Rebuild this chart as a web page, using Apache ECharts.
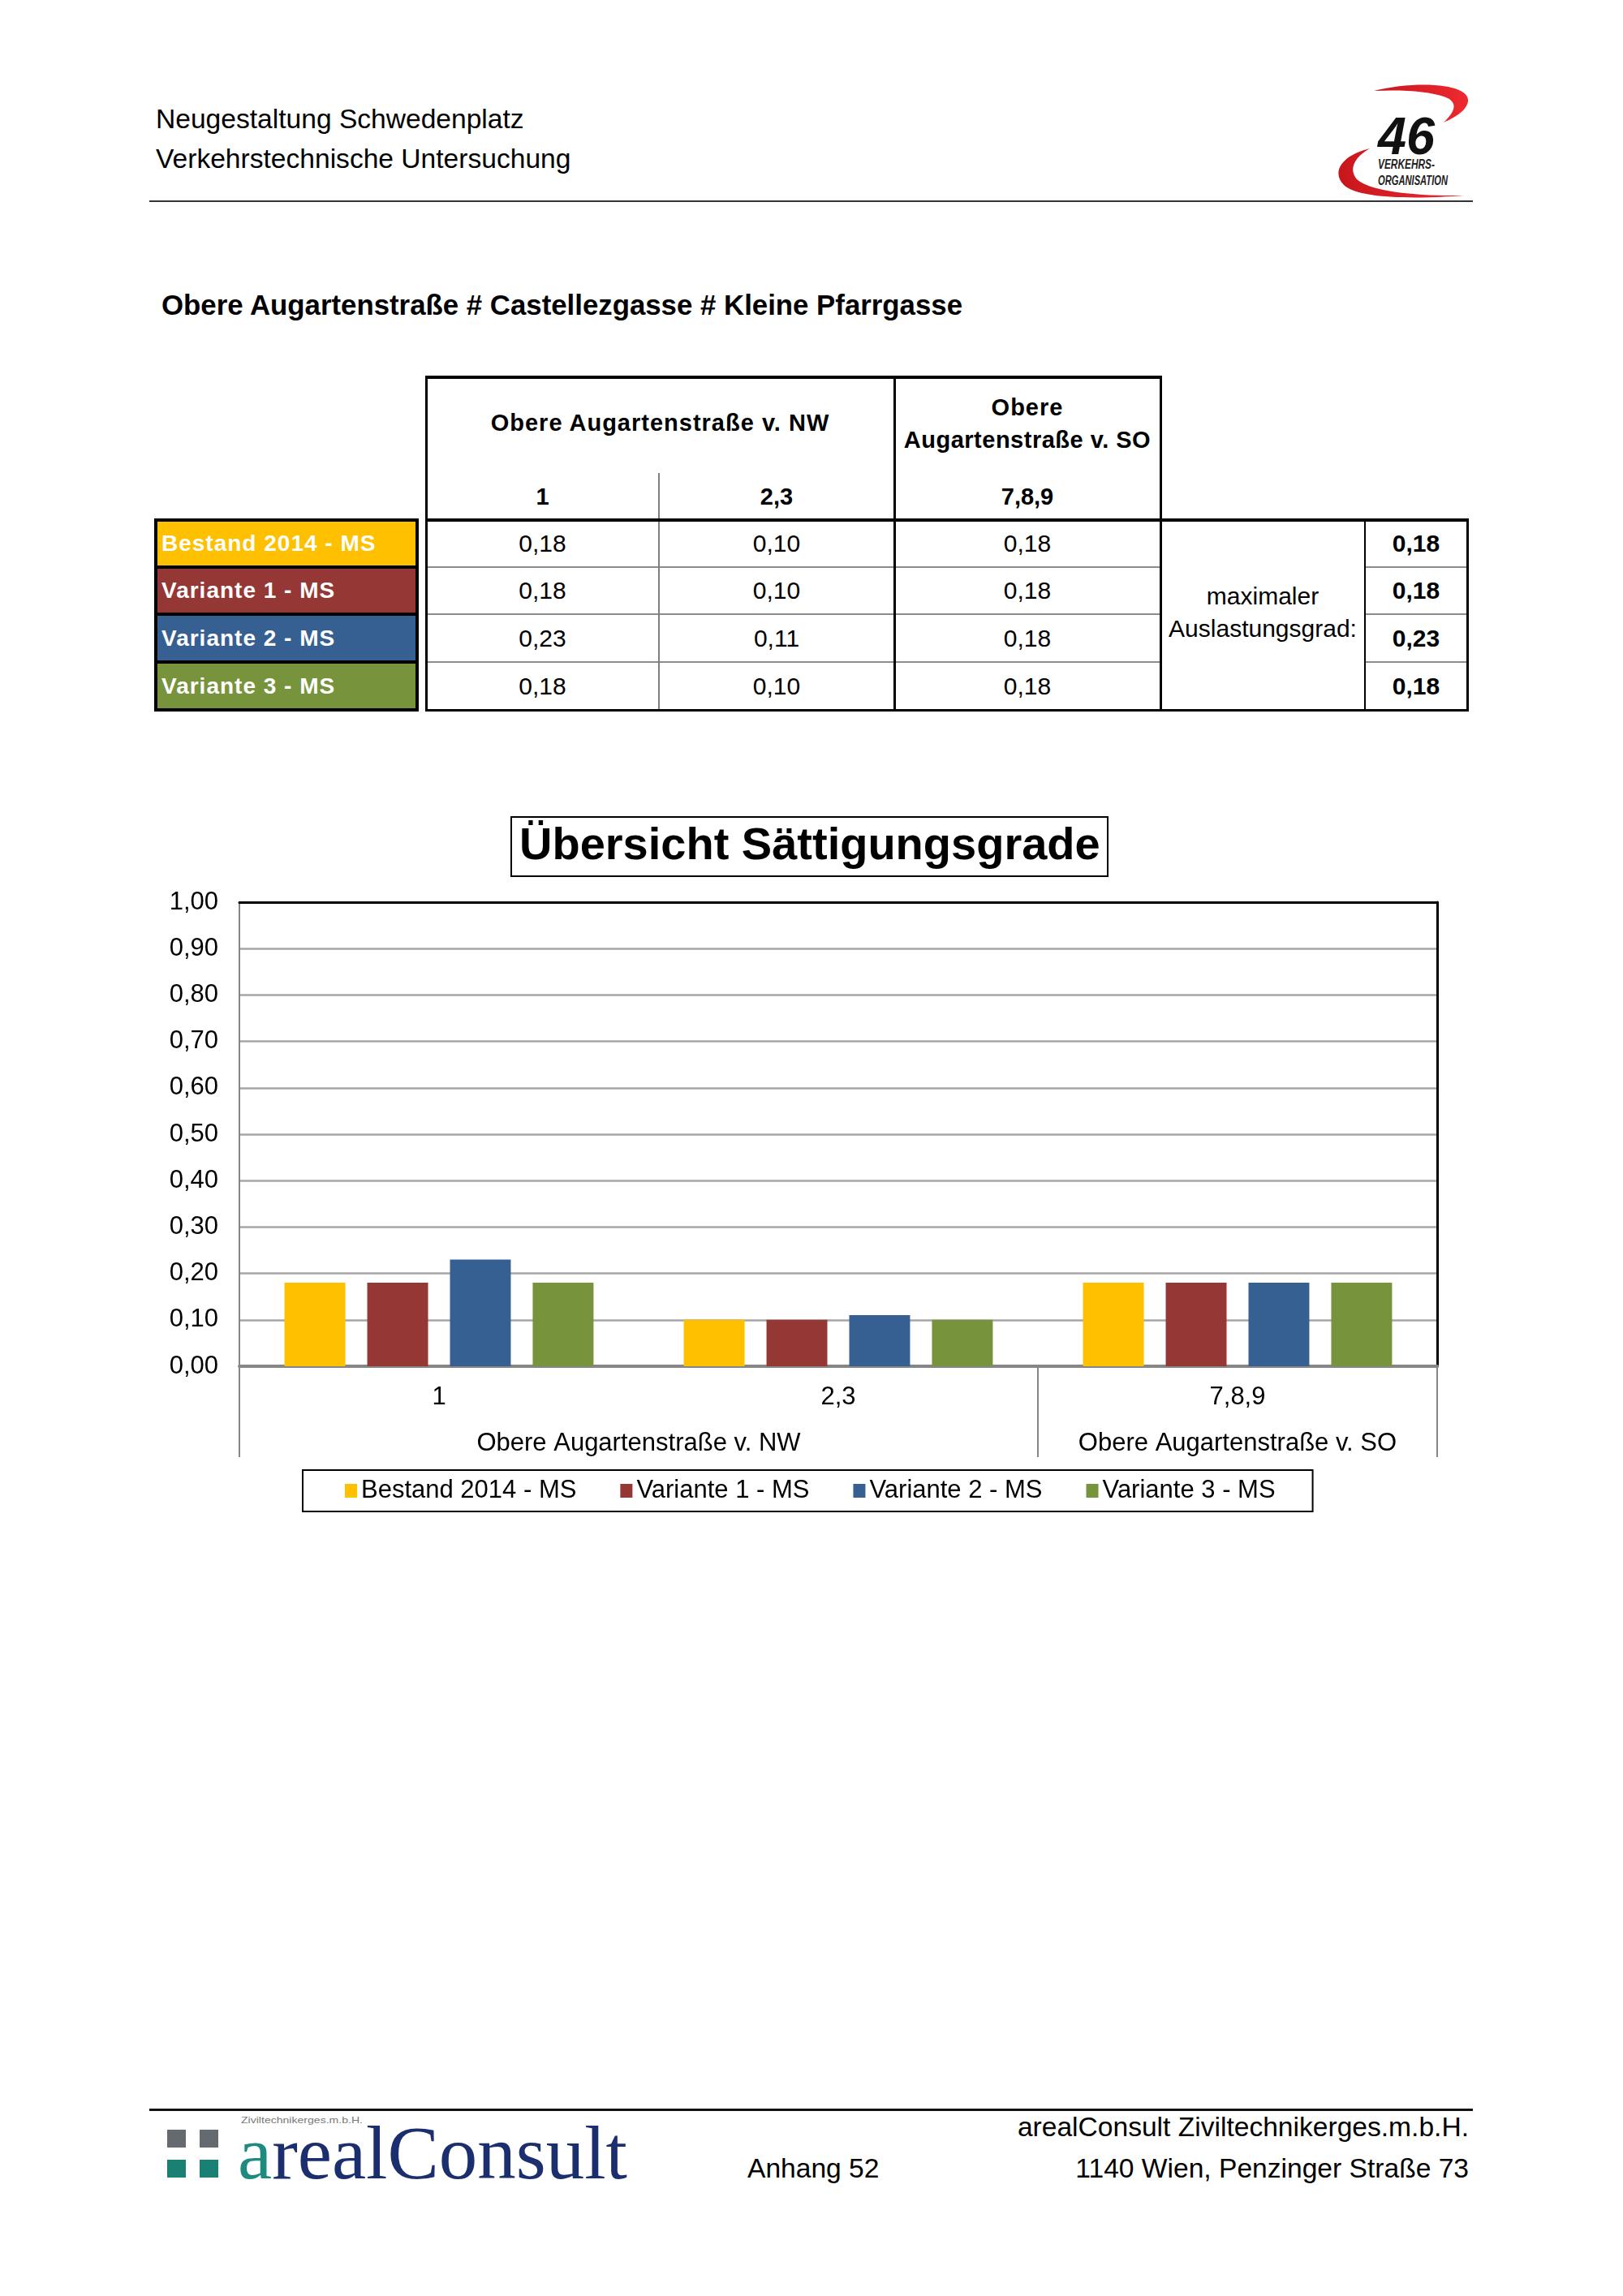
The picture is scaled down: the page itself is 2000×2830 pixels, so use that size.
<!DOCTYPE html>
<html>
<head>
<meta charset="utf-8">
<title>Übersicht Sättigungsgrade</title>
<script src="https://cdn.jsdelivr.net/npm/echarts@6.0.0/dist/echarts.min.js"></script>
<style>
  html, body { margin: 0; padding: 0; background: #fff; }
  body { width: 2000px; height: 2830px; position: relative; overflow: hidden;
         font-family: 'Liberation Sans', Arial, sans-serif; color: #000; }
  #chart { position: absolute; left: 0; top: 980px; width: 2000px; height: 920px; }
  svg { position: absolute; overflow: visible; }
</style>
</head>
<body>
<div id="chart"></div>

<!-- logo oben rechts -->
<svg style="left:1636px;top:95px" width="200" height="170" viewBox="0 0 200 170">
  <defs>
    <linearGradient id="rot" x1="0" y1="0" x2="1" y2="0">
      <stop offset="0" stop-color="#c8161d"/>
      <stop offset="1" stop-color="#ee2a2f"/>
    </linearGradient>
  </defs>
  <path d="M57,17 C110,4 176,8 173,30 C171,42 156,50 143,56 C154,45 161,35 150,27 C134,18 95,15 57,17 Z" fill="url(#rot)"/>
  <path d="M52,88 C18,96 4,117 20,133 C36,149 100,151 168,146 C110,147 52,141 36,126 C25,113 34,98 52,88 Z" fill="url(#rot)"/>
  <text x="62" y="95" font-family="Liberation Sans" font-weight="bold" font-style="italic" font-size="64" textLength="70" lengthAdjust="spacingAndGlyphs" fill="#111">46</text>
  <text x="62" y="113" font-family="Liberation Sans" font-weight="bold" font-style="italic" font-size="16" textLength="70" lengthAdjust="spacingAndGlyphs" fill="#222">VERKEHRS-</text>
  <text x="62" y="133" font-family="Liberation Sans" font-weight="bold" font-style="italic" font-size="16" textLength="86" lengthAdjust="spacingAndGlyphs" fill="#222">ORGANISATION</text>
</svg>

<!-- logo unten links -->
<svg style="left:197px;top:2605px" width="600" height="100" viewBox="0 0 600 100">
  <rect x="9" y="20" width="23" height="22" fill="#646a70"/>
  <rect x="49" y="20" width="23" height="22" fill="#646a70"/>
  <rect x="9" y="57" width="23" height="22" fill="#1a8074"/>
  <rect x="49" y="57" width="23" height="22" fill="#1a8074"/>
  <text x="100" y="12" font-family="Liberation Sans" font-size="11" fill="#777" textLength="150" lengthAdjust="spacingAndGlyphs">Ziviltechnikerges.m.b.H.</text>
  <text x="96" y="80" font-family="Liberation Serif" font-size="94" textLength="480" lengthAdjust="spacingAndGlyphs" fill="#1b2e6e"><tspan fill="#1f8a7e">a</tspan>realConsult</text>
</svg>

<script>
// Kategorien (Zufahrten) und Gruppen
const categories = ['1', '2,3', '7,8,9']
const groupNames = ['Obere Augartenstraße v. NW', 'Obere Augartenstraße v. SO']
const groupBounds = [0, 2, 3]          // Gruppe NW = Kat. 1 + 2,3 ; Gruppe SO = 7,8,9
// Szenarien
const seriesNames = ['Bestand 2014 - MS', 'Variante 1 - MS', 'Variante 2 - MS', 'Variante 3 - MS']
const colors = ['#ffc000', '#953735', '#376092', '#77933c']
// Sättigungsgrade je Zufahrt
const bestand = [0.18, 0.10, 0.18]
const variante1 = [0.18, 0.10, 0.18]
const variante2 = [0.23, 0.11, 0.18]
const variante3 = [0.18, 0.10, 0.18]
// y-Achse
const yTicks = [0, 0.1, 0.2, 0.3, 0.4, 0.5, 0.6, 0.7, 0.8, 0.9, 1.0]

const seriesData = [bestand, variante1, variante2, variante3]
const fmt = v => v.toFixed(2).replace('.', ',')

//kleine Helfer fürs Seitenlayout
const page = document.body
const put = (html, css) => {
  const d = document.createElement('div')
  d.innerHTML = html
  Object.assign(d.style, { position: 'absolute', whiteSpace: 'nowrap' }, css)
  page.appendChild(d)
  return d
}
// y = vertikale Mitte
const text = (s, x, y, size, opt = {}) => {
  const a = opt.align || 'center'
  const tx = a === 'center' ? '-50%' : a === 'right' ? '-100%' : '0'
  return put(s, {
    left: x + 'px', top: y + 'px', transform: `translate(${tx},-50%)`,
    fontSize: size + 'px', lineHeight: '1', fontWeight: opt.bold ? 'bold' : 'normal',
    color: opt.color || '#000', letterSpacing: (opt.ls || 0) + 'px'
  })
}
const hline = (x1, x2, y, w, c) => put('', { left: x1 + 'px', top: (y - w / 2) + 'px', width: (x2 - x1) + 'px', height: w + 'px', background: c })
const vline = (x, y1, y2, w, c) => put('', { left: (x - w / 2) + 'px', top: y1 + 'px', width: w + 'px', height: (y2 - y1) + 'px', background: c })

// Kopfzeile
text('Neugestaltung Schwedenplatz', 192, 147, 33.6, { align: 'left' })
text('Verkehrstechnische Untersuchung', 192, 196, 33.6, { align: 'left' })
hline(184, 1815, 248, 2, '#333')

text('Obere Augartenstraße # Castellezgasse # Kleine Pfarrgasse', 199, 376, 34.8, { align: 'left', bold: true })

// Tabelle
const colX = [525, 812, 1102, 1430, 1682, 1808]
const rowY = [641, 699, 757, 816, 875]
const headTop = 465

// Beschriftungsspalte (farbig)
seriesNames.forEach((n, i) => {
  put('', { left: '192px', top: rowY[i] + 'px', width: '322px', height: (rowY[i + 1] - rowY[i]) + 'px', background: colors[i] })
  text(n, 199, (rowY[i] + rowY[i + 1]) / 2, 28, { align: 'left', bold: true, color: '#fff', ls: 1 })
})
rowY.forEach(y => hline(190, 516, y, 4, '#000'))
vline(192, rowY[0] - 2, rowY[4] + 2, 4, '#000')
vline(514, rowY[0] - 2, rowY[4] + 2, 4, '#000')

// Linien
for (let i = 1; i < 4; i++) {
  hline(colX[0], colX[3], rowY[i], 2, '#8c8c8c')
  hline(colX[4], colX[5], rowY[i], 2, '#8c8c8c')
}
vline(colX[1], 583, rowY[4], 2, '#7f7f7f')
hline(colX[0], colX[3], headTop, 4, '#000')
vline(colX[0], headTop - 2, rowY[4] + 2, 3, '#000')
vline(colX[2], headTop, rowY[4], 3, '#000')
vline(colX[3], headTop - 2, rowY[4], 3, '#000')
vline(colX[4], rowY[0], rowY[4], 2, '#000')
vline(colX[5], rowY[0] - 2, rowY[4] + 2, 3, '#000')
hline(colX[0], colX[5] + 1, rowY[0], 4, '#000')
hline(colX[0], colX[5] + 1, rowY[4], 3, '#000')

// Kopf
text(groupNames[0], (colX[0] + colX[2]) / 2, 521, 29, { bold: true, ls: 1 })
text('Obere', (colX[2] + colX[3]) / 2, 502, 29, { bold: true, ls: 1 })
text('Augartenstraße v. SO', (colX[2] + colX[3]) / 2, 542, 29, { bold: true, ls: 0.5 })
categories.forEach((c, j) => text(c, (colX[j] + colX[j + 1]) / 2, 612, 29, { bold: true }))

// Werte
seriesData.forEach((row, i) => {
  const yc = (rowY[i] + rowY[i + 1]) / 2
  row.forEach((v, j) => text(fmt(v), (colX[j] + colX[j + 1]) / 2, yc, 30))
  text(fmt(Math.max(...row)), (colX[4] + colX[5]) / 2, yc, 30, { bold: true })
})
text('maximaler', (colX[3] + colX[4]) / 2, 735, 30)
text('Auslastungsgrad:', (colX[3] + colX[4]) / 2, 775, 30)

// Fußzeile
hline(184, 1815, 2600, 3, '#111')
text('arealConsult Ziviltechnikerges.m.b.H.', 1810, 2622, 33.6, { align: 'right' })
text('1140 Wien, Penzinger Straße 73', 1810, 2673, 33.6, { align: 'right' })
text('Anhang 52', 921, 2673, 33.6, { align: 'left' })

// Diagramm
const groupCenters = groupNames.map((g, i) => (groupBounds[i] + groupBounds[i + 1]) / 2)

const myChart = echarts.init(document.querySelector('#chart'))
const option = {
  animation: false,
  textStyle: { fontFamily: 'Liberation Sans, Arial, sans-serif', color: '#000' },
  color: colors,
  title: {
    text: 'Übersicht Sättigungsgrade',
    left: 630,
    top: 27,
    padding: [9, 10, 8, 10],
    borderColor: '#000',
    borderWidth: 2,
    textStyle: { fontSize: 56, fontWeight: 'bold', color: '#000' }
  },
  legend: {
    data: seriesNames,
    left: 373,
    top: 832,
    padding: [10, 46, 10, 52],
    borderColor: '#000',
    borderWidth: 2,
    itemGap: 54,
    itemWidth: 15,
    itemHeight: 17,
    icon: 'rect',
    textStyle: { fontSize: 31, color: '#000' }
  },
  grid: { left: 295, right: 229, top: 132, bottom: 216, containLabel: false },
  xAxis: [
    {
      type: 'category',
      data: categories,
      position: 'bottom',
      axisLine: { onZero: false, lineStyle: { color: '#868686', width: 4 } },
      axisTick: { show: false },
      axisLabel: { fontSize: 31, color: '#000', margin: 23 },
      splitLine: { show: false }
    },
    {
      // zweite Ebene: Gruppen + Trennstriche
      type: 'value',
      min: 0,
      max: 3,
      position: 'bottom',
      axisLine: { show: false, onZero: false },
      splitLine: { show: false },
      axisTick: { show: true, customValues: groupBounds, length: 112, lineStyle: { color: '#868686', width: 2 } },
      axisLabel: {
        customValues: groupCenters,
        formatter: v => groupNames[groupCenters.indexOf(v)] || '',
        fontSize: 31, color: '#000', margin: 80
      }
    },
    {
      // oberer Rahmen
      type: 'value', min: 0, max: 1, position: 'top',
      axisLine: { show: true, onZero: false, lineStyle: { color: '#000', width: 3 } },
      axisTick: { show: false }, axisLabel: { show: false }, splitLine: { show: false }
    }
  ],
  yAxis: [
    {
      type: 'value',
      min: yTicks[0],
      max: yTicks[yTicks.length - 1],
      interval: 0.1,
      position: 'left',
      axisLine: { show: true, onZero: false, lineStyle: { color: '#868686', width: 2 } },
      axisTick: { show: false },
      splitLine: { lineStyle: { color: '#a6a6a6', width: 2.5 } },
      axisLabel: { fontSize: 31, color: '#000', margin: 26, formatter: v => fmt(v) }
    },
    {
      // rechter Rahmen
      type: 'value', min: 0, max: 1, position: 'right',
      axisLine: { show: true, onZero: false, lineStyle: { color: '#000', width: 3 } },
      axisTick: { show: false }, axisLabel: { show: false }, splitLine: { show: false }
    }
  ],
  series: seriesNames.map((name, i) => ({
    name,
    type: 'bar',
    xAxisIndex: 0,
    yAxisIndex: 0,
    data: seriesData[i],
    barGap: '36%',
    barCategoryGap: '22.6%',
    itemStyle: { color: colors[i] }
  }))
}
myChart.setOption(option)
</script>
</body>
</html>
